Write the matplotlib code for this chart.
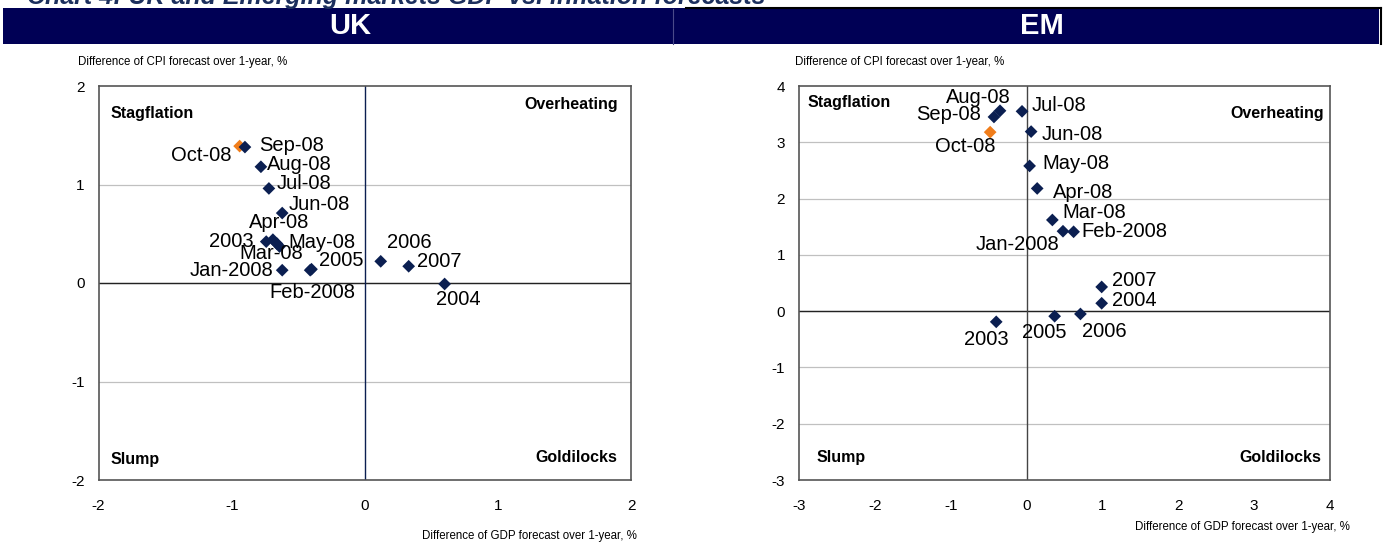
import matplotlib
matplotlib.use("Agg")
import matplotlib.pyplot as plt
from matplotlib.patches import Rectangle

plt.rcParams['font.family'] = ['Liberation Sans', 'DejaVu Sans']

# ---------------- data ----------------
uk_labels = ["Oct-08", "Sep-08", "Aug-08", "Jul-08", "Jun-08", "Apr-08", "2003", "May-08",
             "Mar-08", "Jan-2008", "Feb-2008", "2005", "2006", "2007", "2004"]
uk_gdp = [-0.94, -0.90, -0.78, -0.72, -0.62, -0.69, -0.74, -0.64,
          -0.66, -0.62, -0.41, -0.40, 0.12, 0.33, 0.60]
uk_cpi = [1.39, 1.38, 1.18, 0.96, 0.71, 0.44, 0.42, 0.37,
          0.40, 0.13, 0.13, 0.14, 0.22, 0.17, -0.01]

em_labels = ["Aug-08", "Sep-08", "Jul-08", "Oct-08", "Jun-08", "May-08", "Apr-08", "Mar-08",
             "Jan-2008", "Feb-2008", "2007", "2004", "2005", "2006", "2003"]
em_gdp = [-0.35, -0.43, -0.06, -0.48, 0.06, 0.04, 0.14, 0.34,
          0.48, 0.62, 0.99, 0.99, 0.37, 0.71, -0.40]
em_cpi = [3.56, 3.45, 3.55, 3.18, 3.19, 2.58, 2.18, 1.62,
          1.42, 1.41, 0.43, 0.14, -0.09, -0.05, -0.19]

latest_label = "Oct-08"

uk_xticks = [-2, -1, 0, 1, 2]
uk_yticks = [-2, -1, 0, 1, 2]
em_xticks = [-3, -2, -1, 0, 1, 2, 3, 4]
em_yticks = [-3, -2, -1, 0, 1, 2, 3, 4]

# label placement (offset pixels, horizontal alignment)
uk_label_pos = {
    "Oct-08": (-8, -9, 'right'), "Sep-08": (14, 2, 'left'), "Aug-08": (6, 2, 'left'),
    "Jul-08": (8, 5, 'left'), "Jun-08": (6, 9, 'left'), "Apr-08": (6, 17, 'center'),
    "2003": (-13, 0, 'right'), "May-08": (9, 4, 'left'), "Mar-08": (-6, -10, 'center'),
    "Jan-2008": (-9, 0, 'right'), "Feb-2008": (2, -22, 'center'), "2005": (8, 9, 'left'),
    "2006": (6, 19, 'left'), "2007": (8, 5, 'left'), "2004": (14, -16, 'center'),
}
em_label_pos = {
    "Aug-08": (-22, 13, 'center'), "Sep-08": (-13, 2, 'right'), "Jul-08": (10, 6, 'left'),
    "Oct-08": (-25, -14, 'center'), "Jun-08": (11, -3, 'left'), "May-08": (13, 2, 'left'),
    "Apr-08": (16, -4, 'left'), "Mar-08": (10, 7, 'left'), "Jan-2008": (-4, -13, 'right'),
    "Feb-2008": (8, 0, 'left'), "2007": (10, 6, 'left'), "2004": (10, 3, 'left'),
    "2005": (-10, -16, 'center'), "2006": (2, -18, 'left'), "2003": (-10, -18, 'center'),
}

NAVY = '#0B1F51'
ORANGE = '#F07D1A'
BAND = '#000055'

W, H = 1385, 545
fig = plt.figure(figsize=(W / 100, H / 100), dpi=100)


def fx(px):
    return px / W


def fy(py):
    return 1 - py / H


# title (partly cut off at the top, as in the source) and header bands
fig.text(fx(27), fy(4), "Chart 4: UK and Emerging markets GDP vs. inflation forecasts",
         fontsize=18, fontweight='bold', fontstyle='italic', color='#1C2F5E',
         ha='left', va='baseline')
fig.patches.append(Rectangle((fx(3), fy(44)), fx(1379) - fx(3), fy(8) - fy(44),
                             transform=fig.transFigure, facecolor=BAND, edgecolor='none'))
fig.add_artist(plt.Line2D([fx(673), fx(673)], [fy(44), fy(9)], transform=fig.transFigure,
                          color='#4A4A8A', lw=0.8))
fig.add_artist(plt.Line2D([fx(686), fx(1381)], [fy(7.5), fy(7.5)], transform=fig.transFigure,
                          color='black', lw=1.5))
fig.add_artist(plt.Line2D([fx(1381), fx(1381)], [fy(7.5), fy(44)], transform=fig.transFigure,
                          color='black', lw=1.5))
fig.text(fx(350), fy(26), "UK", color='white', fontsize=21, fontweight='bold',
         ha='center', va='center')
fig.text(fx(1042), fy(26), "EM", color='white', fontsize=21, fontweight='bold',
         ha='center', va='center')


def make_panel(rect, xs, ys, labels, pos, xticks, yticks, vline_color, quad):
    ax = fig.add_axes(rect)
    ax.set_xlim(xticks[0], xticks[-1])
    ax.set_ylim(yticks[0], yticks[-1])
    ax.set_xticks(xticks)
    ax.set_yticks(yticks)
    ax.set_xticklabels([str(t) for t in xticks])
    ax.set_yticklabels([str(t) for t in yticks])
    ax.tick_params(length=0, labelsize=11)
    ax.tick_params(axis='x', pad=14)
    ax.tick_params(axis='y', pad=10)
    for t in yticks[1:-1]:
        ax.axhline(t, color='#C0C0C0', lw=0.9, zorder=1)
    ax.axhline(0, color='#222222', lw=1.0, zorder=2)
    ax.axvline(0, color=vline_color, lw=1.0, zorder=2)
    for s in ax.spines.values():
        s.set_color('#555555')
        s.set_linewidth(1.2)
    colors = [ORANGE if l == latest_label else NAVY for l in labels]
    ax.scatter(xs, ys, marker='D', s=42, c=colors, edgecolors='none', zorder=5)
    for x, y, l in zip(xs, ys, labels):
        dx, dy, ha = pos[l]
        ax.annotate(l, (x, y), xytext=(dx, dy), textcoords='offset pixels',
                    ha=ha, va='center', fontsize=14.5, color='black', zorder=6)
    for (tx, ty, txt, ha) in quad:
        ax.text(tx, ty, txt, transform=ax.transAxes, ha=ha, va='center',
                fontsize=11.5, fontweight='bold')
    return ax


uk_rect = [fx(98.5), fy(480), fx(631) - fx(98.5), fy(86) - fy(480)]
em_rect = [fx(799), fy(480), fx(1330) - fx(799), fy(86) - fy(480)]

make_panel(uk_rect, uk_gdp, uk_cpi, uk_labels, uk_label_pos, uk_xticks, uk_yticks, '#0B1F51',
           [(0.022, 0.929, "Stagflation", 'left'), (0.975, 0.952, "Overheating", 'right'),
            (0.022, 0.053, "Slump", 'left'), (0.975, 0.056, "Goldilocks", 'right')])
make_panel(em_rect, em_gdp, em_cpi, em_labels, em_label_pos, em_xticks, em_yticks, '#444444',
           [(0.016, 0.957, "Stagflation", 'left'), (0.989, 0.931, "Overheating", 'right'),
            (0.033, 0.058, "Slump", 'left'), (0.983, 0.058, "Goldilocks", 'right')])

fig.text(fx(78), fy(62), "Difference of CPI forecast over 1-year, %", fontsize=8.3,
         ha='left', va='center')
fig.text(fx(795), fy(62), "Difference of CPI forecast over 1-year, %", fontsize=8.3,
         ha='left', va='center')
fig.text(fx(637), fy(536), "Difference of GDP forecast over 1-year, %", fontsize=8.3,
         ha='right', va='center')
fig.text(fx(1350), fy(527), "Difference of GDP forecast over 1-year, %", fontsize=8.3,
         ha='right', va='center')

fig.savefig("out.png", dpi=100)
